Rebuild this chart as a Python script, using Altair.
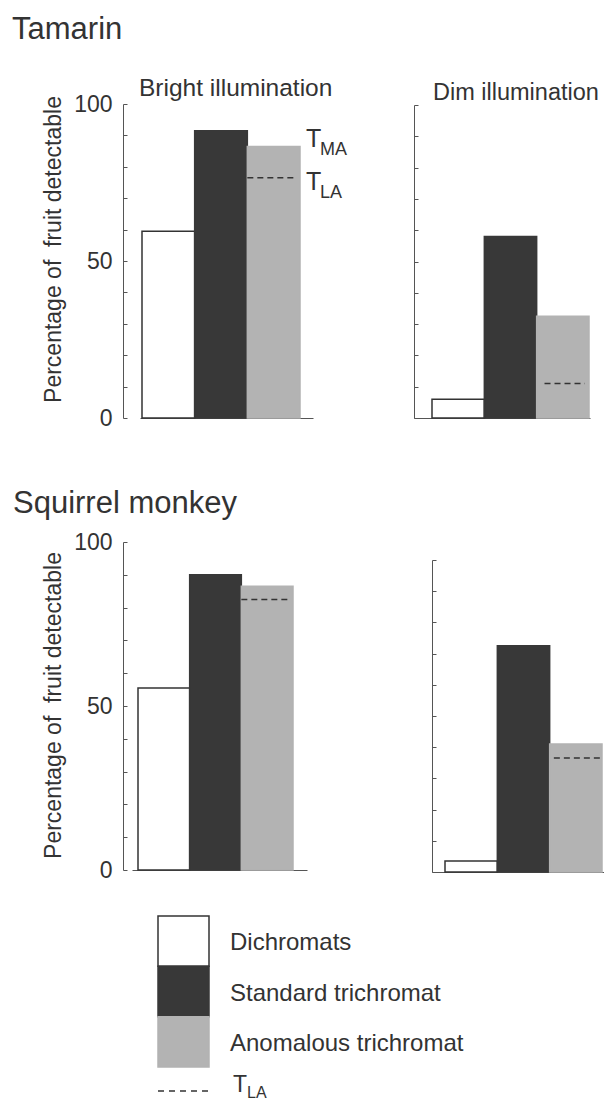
import altair as alt
import pandas as pd

# ---------------- data ----------------
groups = ["Dichromats", "Standard trichromat", "Anomalous trichromat"]
tamarin_bright = [59.5, 91.5, 86.5]
tamarin_dim = [6.0, 58.0, 32.5]
squirrel_bright = [55.5, 90.0, 86.5]
squirrel_dim = [3.5, 72.5, 41.0]
tla_tamarin = [76.5, 11.0]      # bright, dim
tla_squirrel = [82.5, 36.5]     # bright, dim
tick_values = [0, 10, 20, 30, 40, 50, 60, 70, 80, 90, 100]
label_values = [0, 50, 100]
species = ["Tamarin", "Squirrel monkey"]
conditions = ["Bright illumination", "Dim illumination"]
y_title = "Percentage of\u00a0 fruit detectable"

# ---------------- style / layout ----------------
W, H = 596, 1092
FONT = "Liberation Sans"
TXT = "#333333"
AXC = "#555555"
fills = ["#ffffff", "#383838", "#b3b3b3"]
strokes = ["#333333", "#383838", "#b3b3b3"]

fill_enc = alt.Fill("group:N", scale=alt.Scale(domain=groups, range=fills), legend=None)
stroke_enc = alt.Stroke("group:N", scale=alt.Scale(domain=groups, range=strokes), legend=None)


def band_scale(base, bars):
    b0, b1 = base
    c0, c1 = bars
    n = len(groups)
    step = (c1 - c0) / n
    po = ((b1 - b0) / step - n) / 2
    slack = (b1 - b0) - (c1 - c0)
    return alt.Scale(domain=groups, range=[b0, b1], paddingInner=0,
                     paddingOuter=po, align=(c0 - b0) / slack)


panels = [
    dict(values=tamarin_bright, tla=tla_tamarin[0], base=(132, 305), bars=(134, 292),
         yr=(410, 96), ax=115, labels=True, dash=(0.0, 0.9), title=conditions[0],
         tpos=(131, 88), tsize=24.5, ann=True, title_y=241),
    dict(values=tamarin_dim, tla=tla_tamarin[1], base=(406, 582), bars=(424, 581),
         yr=(410, 97), ax=406, labels=False, dash=(0.15, 0.92), title=conditions[1],
         tpos=(425, 92), tsize=23.5, ann=False),
    dict(values=squirrel_bright, tla=tla_squirrel[0], base=(124, 299), bars=(130, 285),
         yr=(862, 534), ax=115, labels=True, dash=(0.0, 0.91), title=None, ann=False,
         title_y=697),
    dict(values=squirrel_dim, tla=tla_squirrel[1], base=(424, 599), bars=(437, 594),
         yr=(864, 552), ax=424, labels=False, dash=(0.08, 1.0), title=None, ann=False),
]

layers = []
for p in panels:
    xs = band_scale(p["base"], p["bars"])
    ys = alt.Scale(domain=[0, 100], range=list(p["yr"]), nice=False)
    df = pd.DataFrame({"group": groups, "value": p["values"]})

    x_axis = alt.Axis(orient="bottom", offset=p["yr"][0] - H, labels=False, ticks=False,
                      domainColor=AXC, domainWidth=1, grid=False, title=None)
    left_kw = dict(orient="left", offset=-p["ax"], values=label_values, ticks=False,
                   tickSize=0, labels=p["labels"], labelFontSize=23, labelColor=TXT,
                   labelFont=FONT, labelPadding=11, labelFlush=False, domainColor=AXC,
                   domainWidth=1, grid=False, titleFontSize=23, titleFontWeight="normal",
                   titleColor=TXT, titleFont=FONT, titlePadding=8)
    if p["labels"]:
        left_kw["title"] = y_title
        left_kw["titleY"] = p["title_y"]
    else:
        left_kw["title"] = None
    left_axis = alt.Axis(**left_kw)
    tick_axis = alt.Axis(orient="right", offset=p["ax"] - W, values=tick_values, ticks=True,
                         tickSize=4, tickColor=AXC, tickWidth=1, labels=False, domain=False,
                         grid=False, title=None)

    bars = alt.Chart(df).mark_bar(strokeWidth=1.5).encode(
        x=alt.X("group:N", scale=xs, axis=x_axis),
        y=alt.Y("value:Q", scale=ys, axis=left_axis),
        fill=fill_enc,
        stroke=stroke_enc,
    )
    layers.append(bars)

    ddf = pd.DataFrame({"group": [groups[2]], "tla": [p["tla"]]})
    dash = alt.Chart(ddf).mark_rule(strokeDash=[6, 4], strokeWidth=1.5, color="#333333").encode(
        x=alt.X("group:N", scale=xs, axis=None, bandPosition=p["dash"][0]),
        x2=alt.X2("group:N", bandPosition=p["dash"][1]),
        y=alt.Y("tla:Q", scale=ys, axis=tick_axis),
    )
    layers.append(dash)

    if p["title"]:
        tdf = pd.DataFrame({"t": [p["title"]]})
        layers.append(alt.Chart(tdf).mark_text(align="left", baseline="alphabetic",
                                               fontSize=p["tsize"], font=FONT,
                                               color=TXT).encode(
            x=alt.value(p["tpos"][0]), y=alt.value(p["tpos"][1]), text="t:N"))

    if p["ann"]:
        adf = pd.DataFrame({"value": [p["values"][2]], "tla": [p["tla"]]})
        ax0 = p["bars"][1] + 6
        specs = [("T", "value", 0, 1, 25), ("MA", "value", 14, 9, 18),
                 ("T", "tla", 0, 12, 25), ("LA", "tla", 14, 20, 18)]
        for txt, fld, dx, dy, fs in specs:
            layers.append(alt.Chart(adf).mark_text(text=txt, align="left", baseline="alphabetic",
                                                   dx=dx, dy=dy, fontSize=fs, font=FONT,
                                                   color=TXT).encode(
                x=alt.value(ax0), y=alt.Y(f"{fld}:Q", scale=ys, axis=None)))

# species titles
sp_pos = [(4, 31), (5, 505)]
for name, (sx, sy) in zip(species, sp_pos):
    sdf = pd.DataFrame({"t": [name]})
    layers.append(alt.Chart(sdf).mark_text(align="left", baseline="alphabetic", fontSize=31,
                                           font=FONT, color=TXT).encode(
        x=alt.value(sx), y=alt.value(sy), text="t:N"))

# legend
leg_df = pd.DataFrame({"group": groups})
ly = alt.Scale(domain=groups, range=[908, 1059], paddingInner=0, paddingOuter=0)
layers.append(alt.Chart(leg_df).mark_rect(strokeWidth=1.5).encode(
    x=alt.value(150), x2=alt.value(201), y=alt.Y("group:N", scale=ly, axis=None),
    fill=fill_enc, stroke=stroke_enc))
layers.append(alt.Chart(leg_df).mark_text(align="left", baseline="middle", dy=2, fontSize=24,
                                          font=FONT, color=TXT).encode(
    x=alt.value(222), y=alt.Y("group:N", scale=ly, axis=None), text="group:N"))
layers.append(alt.Chart(pd.DataFrame({"k": ["TLA"]})).mark_rule(
    strokeDash=[6, 5], strokeWidth=1.5, color="#333333").encode(
    x=alt.value(150), x2=alt.value(200), y=alt.value(1083)))
layers.append(alt.Chart(pd.DataFrame({"t": ["T"]})).mark_text(
    align="left", baseline="alphabetic", fontSize=23, font=FONT, color=TXT).encode(
    x=alt.value(225), y=alt.value(1084), text="t:N"))
layers.append(alt.Chart(pd.DataFrame({"t": ["LA"]})).mark_text(
    align="left", baseline="alphabetic", fontSize=16, font=FONT, color=TXT).encode(
    x=alt.value(239), y=alt.value(1090), text="t:N"))

chart = alt.layer(*layers).resolve_scale(
    x="independent", y="independent"
).resolve_axis(
    x="independent", y="independent"
).properties(
    width=W, height=H, padding=0, autosize=alt.AutoSizeParams(type="none"),
    background="white",
).configure_view(strokeWidth=0)

chart.save("out.html", embed_options={"renderer": "svg", "actions": False})
